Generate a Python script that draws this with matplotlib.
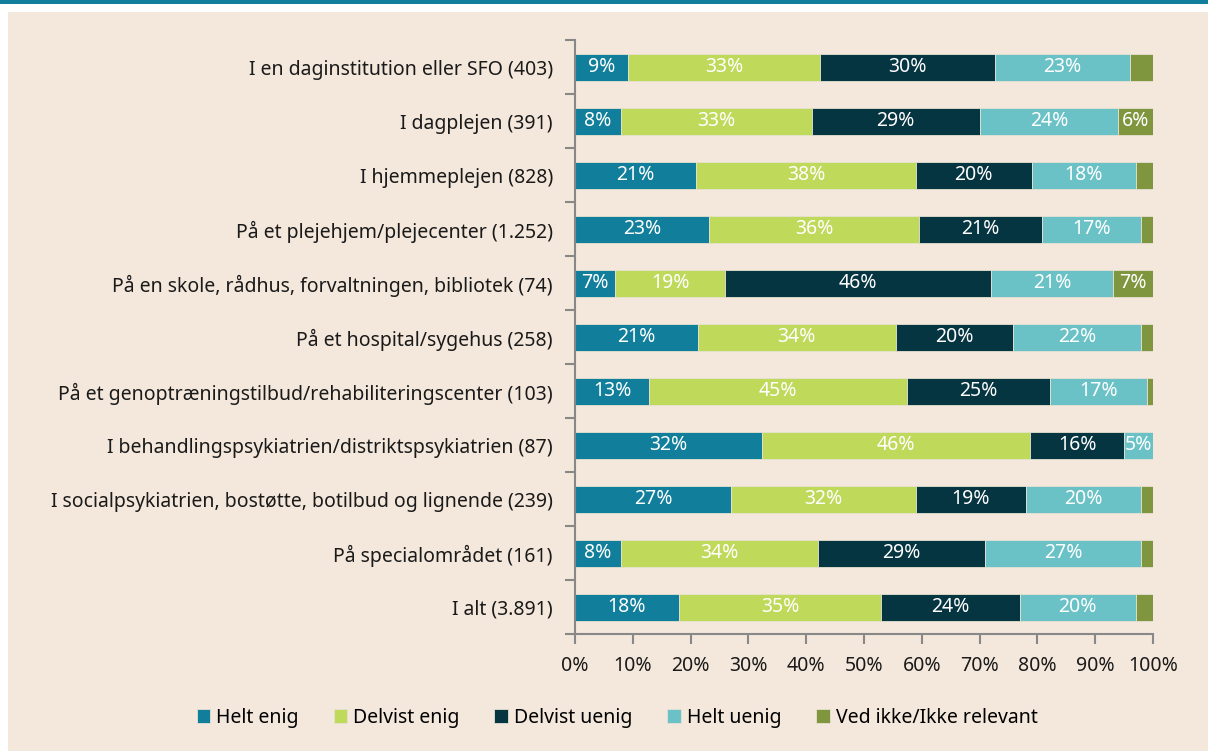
import matplotlib.pyplot as plt
import numpy as np
from matplotlib.patches import Rectangle

plt.rcParams['font.family'] = ['Noto Sans', 'DejaVu Sans']

categories = [
	"I en daginstitution eller SFO (403)",
	"I dagplejen (391)",
	"I hjemmeplejen (828)",
	"På et plejehjem/plejecenter (1.252)",
	"På en skole, rådhus, forvaltningen, bibliotek (74)",
	"På et hospital/sygehus (258)",
	"På et genoptræningstilbud/rehabiliteringscenter (103)",
	"I behandlingspsykiatrien/distriktspsykiatrien (87)",
	"I socialpsykiatrien, bostøtte, botilbud og lignende (239)",
	"På specialområdet (161)",
	"I alt (3.891)",
]
series_names = ["Helt enig", "Delvist enig", "Delvist uenig", "Helt uenig", "Ved ikke/Ikke relevant"]
helt_enig = [9, 8, 21, 23, 7, 21, 13, 32, 27, 8, 18]
delvist_enig = [33, 33, 38, 36, 19, 34, 45, 46, 32, 34, 35]
delvist_uenig = [30, 29, 20, 21, 46, 20, 25, 16, 19, 29, 24]
helt_uenig = [23, 24, 18, 17, 21, 22, 17, 5, 20, 27, 20]
ved_ikke = [4, 6, 3, 2, 7, 2, 1, 0, 2, 2, 3]
colors = ["#117f9b", "#bfd95a", "#063542", "#6ac2c6", "#7f963e"]
xticks = np.arange(0, 101, 10)

FS = 14


def main():
	fig = plt.figure(figsize=(12.08, 7.51), dpi=100)
	fig.patch.set_facecolor("white")
	W, H = 1208, 751
	# beige panel and teal band on top
	fig.add_artist(Rectangle((8 / W, 0), 1, (H - 12) / H, transform=fig.transFigure,
							 facecolor="#f4e8dc", edgecolor="none", zorder=0))
	fig.add_artist(Rectangle((0, (H - 3.5) / H), 1, 3.5 / H, transform=fig.transFigure,
							 facecolor="#117f9b", edgecolor="none", zorder=0))

	ax = fig.add_axes([575 / W, (H - 634) / H, (1153 - 575) / W, (634 - 40) / H])
	ax.set_facecolor("none")

	raw = np.array([helt_enig, delvist_enig, delvist_uenig, helt_uenig, ved_ikke])
	data = raw / raw.sum(axis=0) * 100
	y = np.arange(len(categories))
	left = np.zeros(len(categories))
	for i, name in enumerate(series_names):
		ax.barh(y, data[i], left=left, height=0.5, color=colors[i], label=name,
				edgecolor="#e6e2d2", linewidth=0.6)
		for j in range(len(categories)):
			if raw[i, j] >= 5:
				ax.text(left[j] + data[i, j] / 2, y[j], f"{raw[i, j]}%", ha="center",
						va="center", color="white", fontsize=FS)
		left += data[i]

	ax.set_xlim(0, 100)
	ax.set_ylim(len(categories) - 0.5, -0.5)
	ax.set_yticks(y)
	ax.set_yticklabels(categories, fontsize=FS, color="#1a1a1a")
	ax.set_yticks(np.arange(-0.5, len(categories)), minor=True)
	ax.tick_params(axis="y", which="major", length=0, pad=16)
	ax.tick_params(axis="y", which="minor", length=7, width=1.5, color="#888888", direction="out")
	ax.set_xticks(xticks)
	ax.set_xticklabels([f"{t}%" for t in xticks], fontsize=FS, color="#1a1a1a")
	ax.tick_params(axis="x", length=7, width=1.5, color="#888888", pad=9)
	for s in ["top", "right"]:
		ax.spines[s].set_visible(False)
	for s in ["left", "bottom"]:
		ax.spines[s].set_color("#888888")
		ax.spines[s].set_linewidth(1.5)

	fig.legend(loc="center", bbox_to_anchor=(617 / W, (H - 718) / H), ncol=5, frameon=False,
			   fontsize=FS, handlelength=0.7, handleheight=0.7, handletextpad=0.3,
			   columnspacing=1.8)
	fig.savefig("out.png", dpi=100, facecolor=fig.get_facecolor())


if __name__ == "__main__":
	main()
